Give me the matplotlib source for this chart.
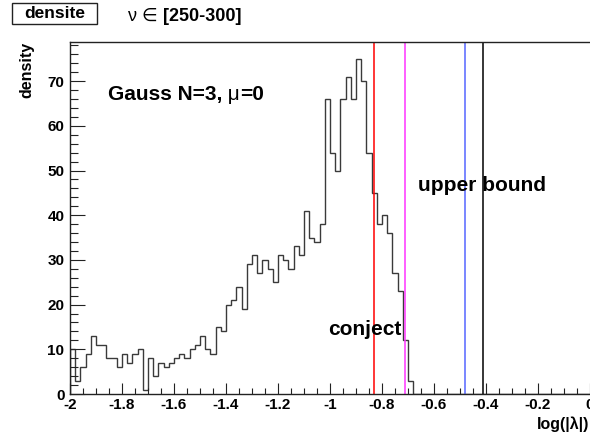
import numpy as np
import matplotlib
matplotlib.use("Agg")
import matplotlib.pyplot as plt
from matplotlib.patches import Rectangle

W, H = 590, 437
FAM = ["Liberation Sans", "DejaVu Sans"]

# ---- data ----
bin_low = -2.0
bin_width = 0.02
density = [10, 3, 6, 9, 13, 11, 11, 8, 8, 6,
           9, 7, 9, 10, 1, 8, 4, 7, 6, 7,
           8, 9, 8, 10, 11, 13, 10, 9, 15, 14,
           20, 21, 24, 19, 29, 31, 27, 30, 28, 25,
           31, 30, 28, 33, 31, 41, 35, 34, 38, 66,
           54, 50, 66, 71, 66, 75, 70, 54, 45, 38,
           40, 36, 27, 23, 12, 3, 0, 0, 0, 0,
           0, 0, 0, 0, 0, 0, 0, 0, 0, 0,
           0, 0, 0, 0, 0, 0, 0, 0, 0, 0,
           0, 0, 0, 0, 0, 0, 0, 0, 0, 0]
line_positions = [-0.830, -0.712, -0.481, -0.410]
line_colors = ["#ff0000", "#ff33ff", "#5566ff", "#000000"]
x_ticks = [-2, -1.8, -1.6, -1.4, -1.2, -1, -0.8, -0.6, -0.4, -0.2, 0]
x_ticklabels = ["-2", "-1.8", "-1.6", "-1.4", "-1.2", "-1", "-0.8", "-0.6", "-0.4", "-0.2", "0"]
y_ticks = [0, 10, 20, 30, 40, 50, 60, 70]
y_ticklabels = ["0", "10", "20", "30", "40", "50", "60", "70"]

n_bins = len(density)
edges = bin_low + bin_width * np.arange(n_bins + 1)

fig = plt.figure(figsize=(W / 100, H / 100), dpi=100)
fig.patch.set_facecolor("white")

def fx(x):
    return x / W

def fy(y):
    return 1 - y / H

ax_l, ax_r, ax_t, ax_b = 70, 590, 42, 394
ax = fig.add_axes([fx(ax_l), fy(ax_b), (ax_r - ax_l) / W, (ax_b - ax_t) / H])

ax.stairs(density, edges, baseline=0, color="#3a3a3a", lw=1.0)
for xp, c in zip(line_positions, line_colors):
    ax.axvline(xp, color=c, lw=1.1)

ax.set_xlim(-2, 0)
ax.set_ylim(0, max(density) * 1.05)

ax.set_xticks(x_ticks)
ax.set_xticklabels(x_ticklabels)
ax.set_yticks(y_ticks)
ax.set_yticklabels(y_ticklabels)
ax.set_xticks(np.arange(-2, 0.001, 0.05), minor=True)
ax.set_yticks(np.arange(0, 79, 2), minor=True)

ax.tick_params(axis="x", which="major", direction="in", length=8, width=0.8,
               color="#222222", pad=3)
ax.tick_params(axis="x", which="minor", direction="in", length=4, width=0.8,
               color="#222222")
ax.tick_params(axis="y", which="major", direction="in", length=11, width=0.8,
               color="#222222", pad=4)
ax.tick_params(axis="y", which="minor", direction="in", length=5.5, width=0.8,
               color="#222222")
for lab in ax.get_xticklabels() + ax.get_yticklabels():
    lab.set_fontfamily(FAM)
    lab.set_fontweight("bold")
    lab.set_fontsize(11)

for s in ["left", "bottom", "top"]:
    ax.spines[s].set_color("#222222")
    ax.spines[s].set_linewidth(1.0)
ax.spines["right"].set_visible(False)

# axis titles
fig.text(fx(27), fy(42), "density", rotation=90, ha="center", va="top",
         fontsize=11.5, fontweight="bold", family=FAM)
fig.text(fx(589), fy(424), "log(|λ|)", ha="right", va="center",
         fontsize=11.5, fontweight="bold", family=FAM)

# title box
box_l, box_t, box_r, box_b = 12, 3, 97, 24
fig.patches.append(Rectangle((fx(box_l), fy(box_b)), (box_r - box_l) / W,
                             (box_b - box_t) / H, transform=fig.transFigure,
                             facecolor="white", edgecolor="#222222", lw=1.0))
fig.text(fx((box_l + box_r) / 2), fy(13.5), "densite", ha="center", va="center",
         fontsize=12.5, fontweight="bold", family=FAM)

renderer = fig.canvas.get_renderer()

def draw_pieces(x_px, y_px, pieces, size):
    x = x_px
    for s, weight in pieces:
        t = fig.text(fx(x), fy(y_px), s, ha="left", va="baseline",
                     fontsize=size, fontweight=weight, family=FAM)
        bb = t.get_window_extent(renderer)
        x += bb.width

draw_pieces(128, 21, [("ν ∈ ", "normal"), ("[250-300]", "bold")], 13)
draw_pieces(108, 100, [("Gauss N=3,", "bold"), (" μ", "normal"), ("=0", "bold")], 15)
fig.text(fx(418), fy(191), "upper bound", ha="left", va="baseline",
         fontsize=15, fontweight="bold", family=FAM)
fig.text(fx(328), fy(335), "conject", ha="left", va="baseline",
         fontsize=15, fontweight="bold", family=FAM)

fig.savefig("out.png", dpi=100)
